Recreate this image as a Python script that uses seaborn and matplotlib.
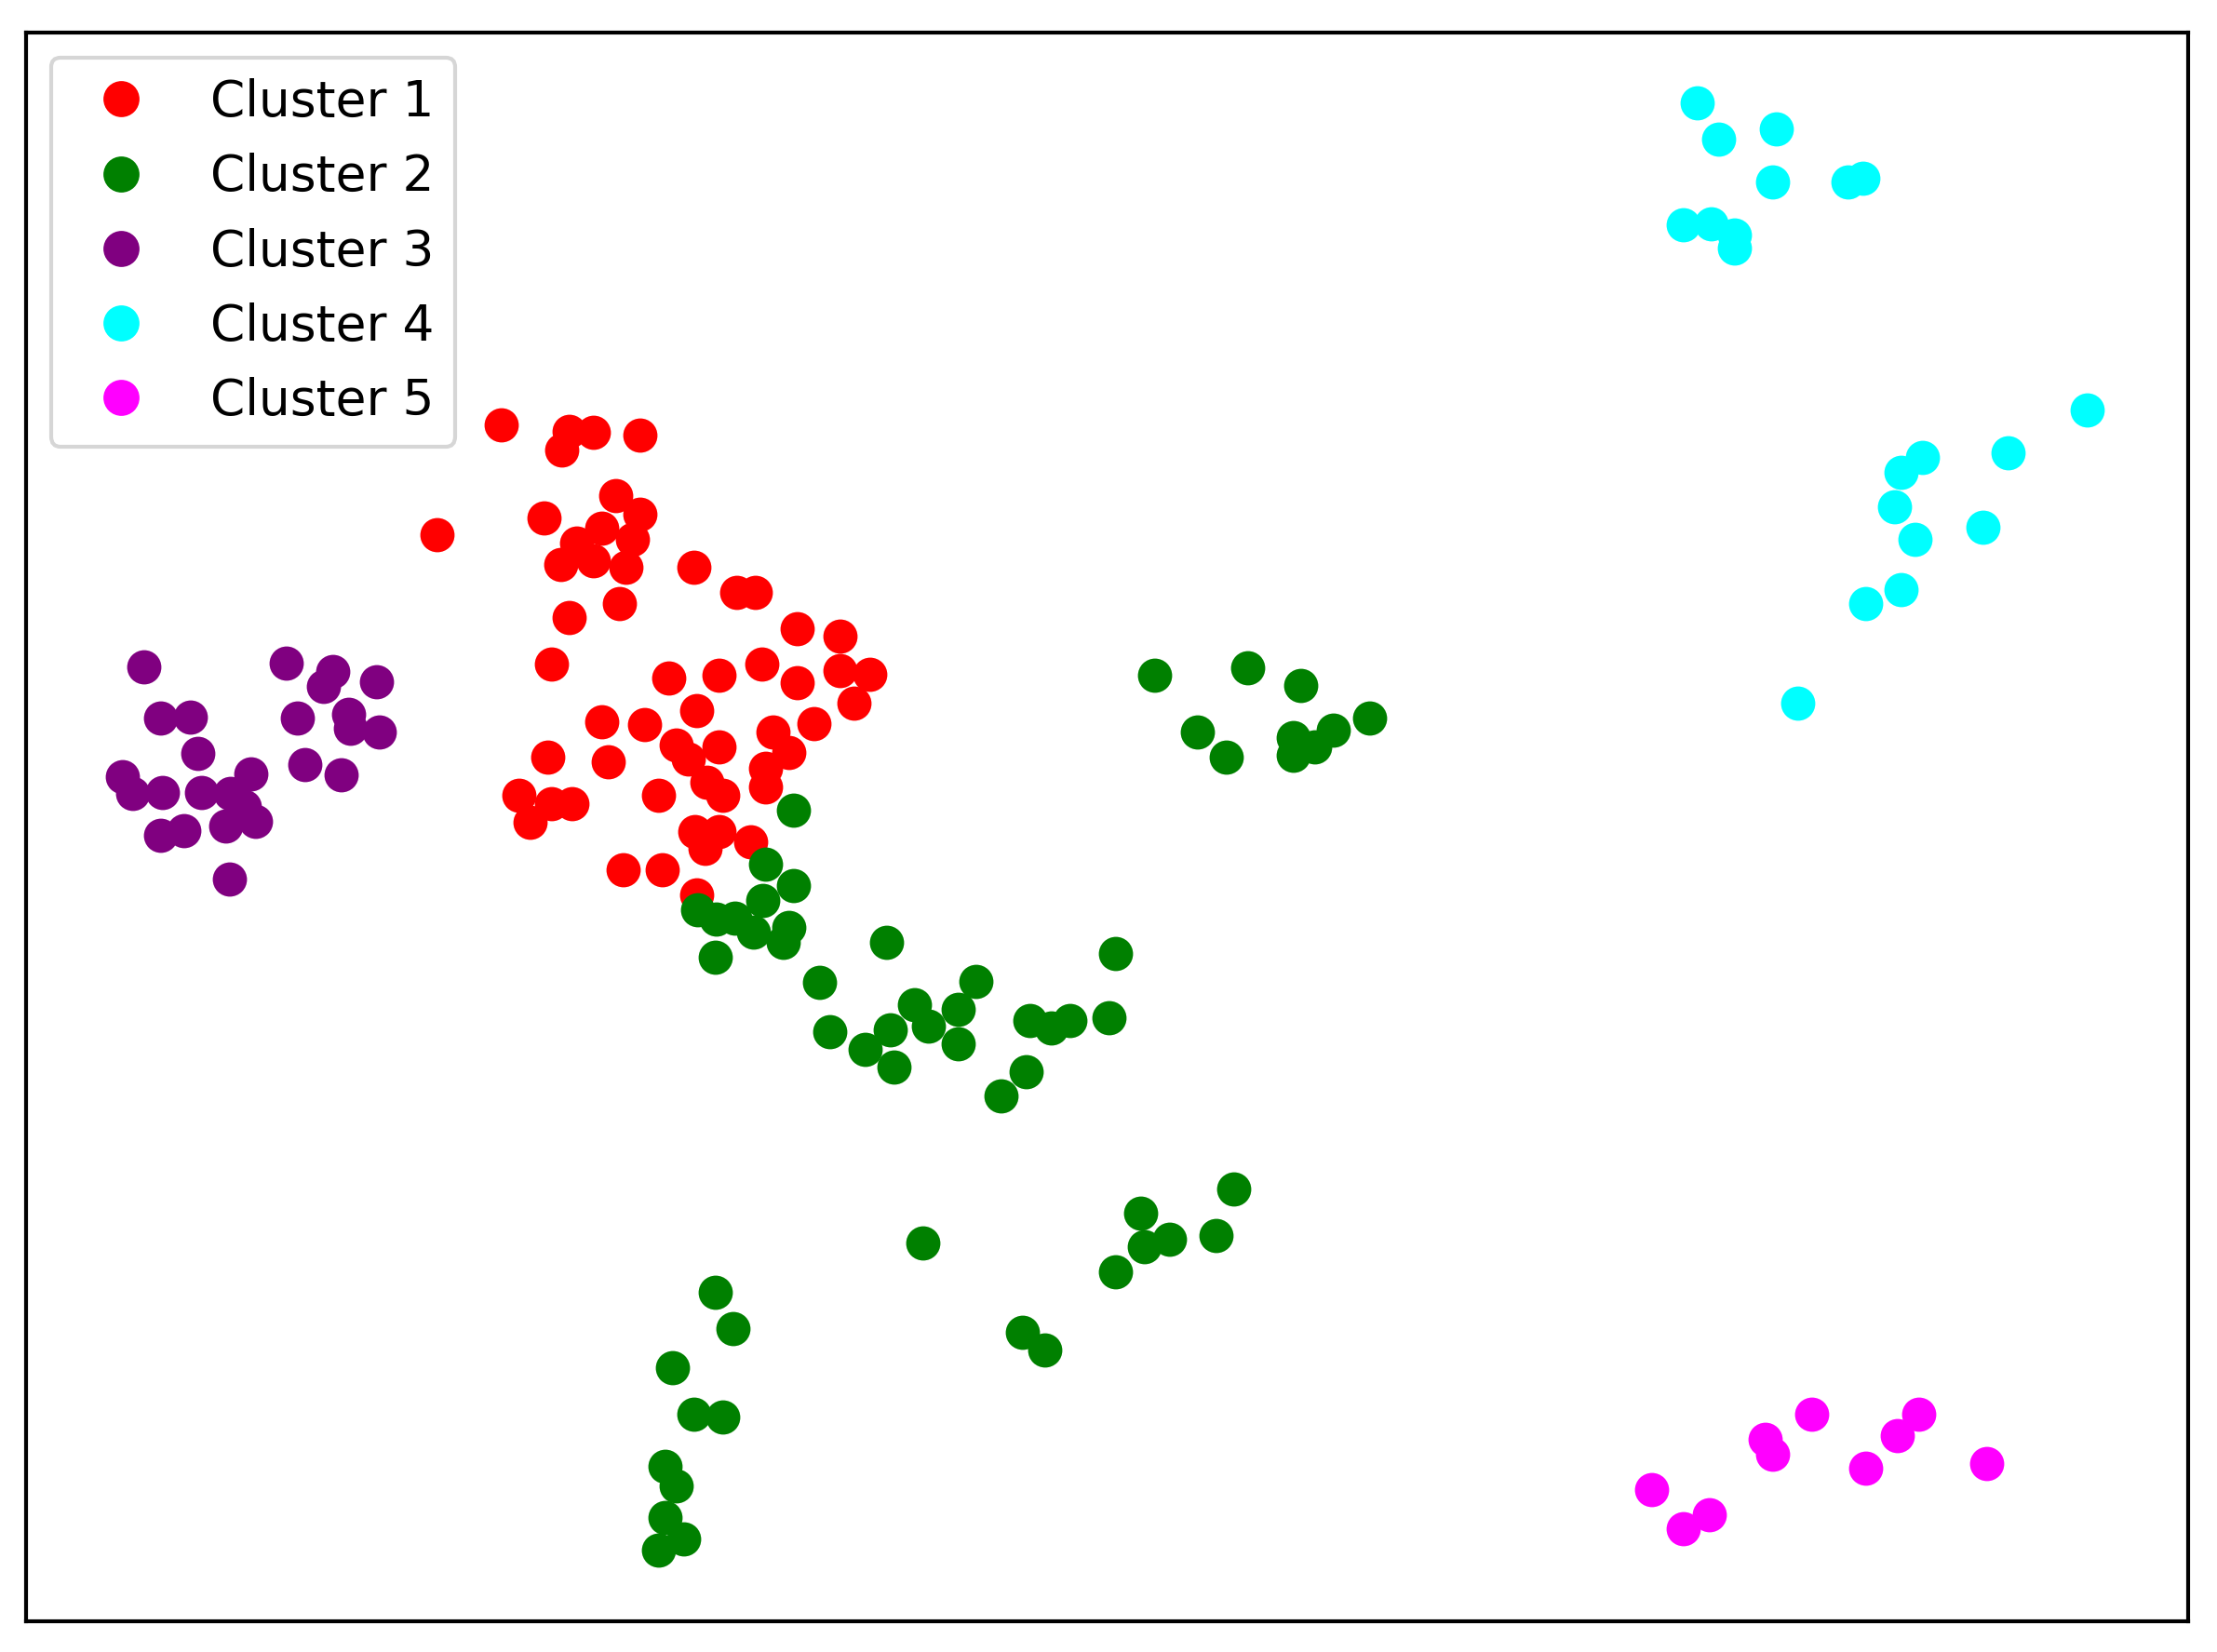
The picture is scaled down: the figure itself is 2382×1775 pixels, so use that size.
#Scatter of 5 clusters (positions, pixel-like units)

import pandas as pd
import matplotlib.pyplot as plt
import seaborn as sns

c1_x = [539, 612, 638, 604, 688, 662, 688, 585, 470, 647, 620, 680, 603, 638, 673, 666, 612,
        746, 792, 812, 857, 903, 593, 719, 773, 819, 857, 903, 935, 918, 647, 693, 749, 727,
        773, 831, 875, 848, 823, 823, 589, 654, 740, 760, 777, 708, 558, 570, 593, 615, 747,
        758, 773, 807, 670, 712, 749]
c1_y = [457, 464, 465, 484, 468, 533, 553, 557, 575, 568, 584, 580, 607, 603, 610, 649, 664,
        610, 637, 637, 676, 684, 714, 729, 726, 714, 734, 721, 725, 756, 776, 779, 764, 801,
        803, 787, 778, 809, 826, 846, 814, 819, 816, 841, 855, 855, 855, 884, 864, 864, 894,
        912, 894, 905, 935, 935, 962]

c2_x = [853, 823, 853, 820, 750, 770, 790, 810, 848, 842, 769, 953, 881, 892, 930, 961, 957,
        983, 998, 1030, 1030, 1049, 1107, 1130, 1150, 1192, 1199, 1103, 1076,
        1241, 1341, 1398, 1287, 1318, 1390, 1390, 1413, 1433, 1472,
        992, 769, 788, 723, 746, 777, 715, 727, 715, 735, 708,
        1326, 1226, 1257, 1230, 1307, 1199, 1099, 1123]
c2_y = [871, 929, 952, 968, 978, 988, 987, 1002, 997, 1013, 1029, 1013, 1056, 1109, 1128, 1147,
        1107, 1080, 1103, 1085, 1122, 1055, 1097, 1105, 1097, 1094, 1025, 1152, 1178,
        726, 718, 737, 787, 814, 793, 812, 803, 785, 772,
        1336, 1389, 1428, 1470, 1520, 1523, 1576, 1597, 1631, 1654, 1666,
        1278, 1304, 1332, 1340, 1328, 1367, 1432, 1451]

c3_x = [155, 308, 358, 348, 405, 173, 205, 320, 375, 377, 408, 213, 328, 367, 132, 143, 175,
        217, 270, 248, 263, 243, 275, 173, 198, 247]
c3_y = [717, 713, 722, 738, 733, 772, 771, 772, 768, 783, 787, 810, 822, 833, 835, 853, 852,
        852, 832, 853, 867, 888, 883, 898, 893, 945]

c4_x = [1824, 1847, 1909, 1905, 1986, 2002, 1809, 1839, 1864, 1864,
        2243, 2066, 2043, 2158, 2036, 2058, 2131, 2043, 2005, 1932]
c4_y = [111, 150, 139, 196, 196, 192, 242, 241, 253, 267,
        441, 492, 508, 487, 545, 580, 567, 634, 649, 756]

c5_x = [1947, 1897, 1905, 2062, 2039, 2005, 2135, 1775, 1837, 1809]
c5_y = [1520, 1547, 1563, 1520, 1543, 1578, 1573, 1601, 1628, 1643]

labels = ['Cluster 1', 'Cluster 2', 'Cluster 3', 'Cluster 4', 'Cluster 5']
colors = ['red', 'green', 'purple', 'cyan', 'magenta']

frames = []
for lab, xs, ys in zip(labels, [c1_x, c2_x, c3_x, c4_x, c5_x], [c1_y, c2_y, c3_y, c4_y, c5_y]):
    frames.append(pd.DataFrame({'x': xs, 'y': ys, 'cluster': lab}))
df = pd.concat(frames, ignore_index=True)

fig = plt.figure(figsize=(2382 / 300, 1775 / 300), dpi=300)
ax = fig.add_axes([28 / 2382, 1 - 1742 / 1775, (2351 - 28) / 2382, (1742 - 35) / 1775])

sns.scatterplot(data=df, x='x', y='y', hue='cluster', hue_order=labels,
                palette=dict(zip(labels, colors)), s=78, linewidth=0, ax=ax)

ax.set_xlim(28, 2351)
ax.set_ylim(1742, 35)
ax.set_xticks([])
ax.set_yticks([])
ax.set_xlabel('')
ax.set_ylabel('')
for sp in ax.spines.values():
    sp.set_linewidth(1.0)
    sp.set_color('black')

leg = ax.legend(loc='upper left', fontsize=12.8, labelspacing=0.53, borderpad=0.42)
for h in leg.legend_handles:
    h.set_markersize(9.3)
    h.set_markeredgewidth(0)

fig.savefig('out.png', dpi=300)
